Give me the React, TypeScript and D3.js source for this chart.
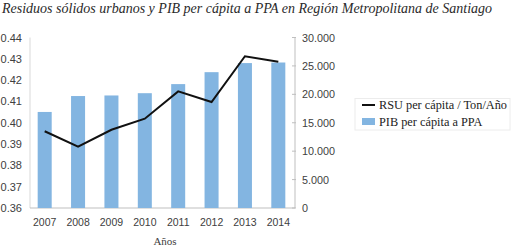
import React from "react";
import * as d3 from "d3";

const years = ["2007", "2008", "2009", "2010", "2011", "2012", "2013", "2014"];
const rsu = [0.396, 0.3888, 0.3967, 0.4019, 0.4147, 0.4097, 0.4312, 0.4286];
const pib = [16900, 19700, 19800, 20200, 21800, 23900, 25500, 25600];
const leftTicks = [0.36, 0.37, 0.38, 0.39, 0.4, 0.41, 0.42, 0.43, 0.44];
const rightTicks = [0, 5000, 10000, 15000, 20000, 25000, 30000];
const title = "Residuos sólidos urbanos y PIB per cápita a PPA en Región Metropolitana de Santiago";
const xTitle = "Años";
const legendLine = "RSU per cápita / Ton/Año";
const legendBar = "PIB per cápita a PPA";

const W = 513, H = 249;
const left = 28, right = 295, top = 37.5, bottom = 208;

export default function App() {
  const x = d3.scaleBand<string>().domain(years).range([left, right]).paddingInner(0.58).paddingOuter(0.29);
  const yL = d3.scaleLinear().domain([0.36, 0.44]).range([bottom, top]);
  const yR = d3.scaleLinear().domain([0, 30000]).range([bottom, top]);
  const cx = (i: number) => (x(years[i]) as number) + x.bandwidth() / 2;
  const line = d3.line<number>().x((_, i) => cx(i)).y((d) => yL(d));
  const fmtR = (v: number) => (v === 0 ? "0" : d3.format(",")(v).replace(/,/g, "."));
  const sans = "Liberation Sans, Arial, sans-serif";
  const serif = "Liberation Serif, DejaVu Serif, serif";
  return (
    <svg width={W} height={H} style={{ position: "absolute", left: 0, top: 0, background: "#fff" }}>
      <text x={2} y={13} fontFamily={serif} fontStyle="italic" fontSize={14} fill="#2a2a2a">{title}</text>
      <line x1={30} x2={30} y1={top} y2={bottom} stroke="#d9d9d9" />
      <line x1={30} x2={right} y1={bottom} y2={bottom} stroke="#bfbfbf" />
      <line x1={right} x2={right} y1={top} y2={bottom} stroke="#bfbfbf" />
      {leftTicks.map((t) => (
        <text key={t} x={22} y={yL(t) + 4} textAnchor="end" fontFamily={sans} fontSize={11} fill="#404040">{t.toFixed(2)}</text>
      ))}
      {rightTicks.map((t) => (
        <g key={t}>
          <line x1={right - 3} x2={right + 1} y1={yR(t)} y2={yR(t)} stroke="#bfbfbf" />
          <text x={302} y={yR(t) + 4} fontFamily={sans} fontSize={10.8} fill="#404040">{fmtR(t)}</text>
        </g>
      ))}
      {years.map((yv, i) => (
        <g key={yv}>
          <rect x={x(yv)} y={yR(pib[i])} width={x.bandwidth()} height={bottom - yR(pib[i])} fill="#83b5e1" />
          <text x={cx(i)} y={226} textAnchor="middle" fontFamily={sans} fontSize={10.5} fill="#404040">{yv}</text>
        </g>
      ))}
      <path d={line(rsu) || ""} fill="none" stroke="#111" strokeWidth={2} />
      <text x={165} y={245} textAnchor="middle" fontFamily={serif} fontSize={11} fill="#404040">{xTitle}</text>
      <rect x={355} y={98.5} width={155} height={31.5} fill="#fff" stroke="#ececec" />
      <line x1={362} x2={375} y1={105} y2={105} stroke="#111" strokeWidth={2} />
      <text x={379} y={109} fontFamily={serif} fontSize={12.3} fill="#222">{legendLine}</text>
      <rect x={362} y={118} width={13} height={7} fill="#83b5e1" />
      <text x={379} y={126} fontFamily={serif} fontSize={12.3} fill="#222">{legendBar}</text>
    </svg>
  );
}
